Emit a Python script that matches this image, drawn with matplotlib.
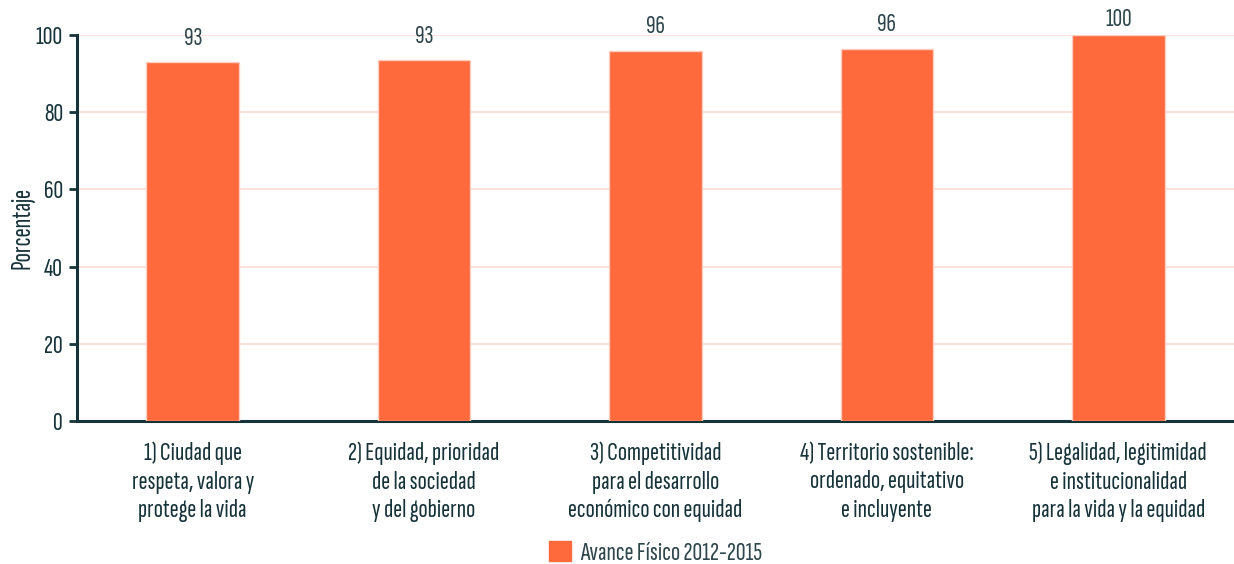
import matplotlib
matplotlib.use("Agg")
import matplotlib.pyplot as plt
import matplotlib.patches as mpatches

# datos del grafico
categorias = [
    "1) Ciudad que\nrespeta, valora y\nprotege la vida",
    "2) Equidad, prioridad\nde la sociedad\ny del gobierno",
    "3) Competitividad\npara el desarrollo\neconómico con equidad",
    "4) Territorio sostenible:\nordenado, equitativo\ne incluyente",
    "5) Legalidad, legitimidad\ne institucionalidad\npara la vida y la equidad",
]
avance = [93.0, 93.5, 95.9, 96.4, 100.0]
etiquetas = ["93", "93", "96", "96", "100"]
yticks = [0, 20, 40, 60, 80, 100]

naranja = "#FF6A3D"
oscuro = "#17333A"
fuente = "Sofia Sans Extra Condensed"

plt.rcParams['font.family'] = [fuente, 'DejaVu Sans']

fig = plt.figure(figsize=(12.34, 5.64), dpi=100)
ax = fig.add_axes([77 / 1234, 1 - 421 / 564, 1 - 77 / 1234, 386 / 564])

x = list(range(len(categorias)))
ax.bar(x, avance, width=0.4, color=naranja, edgecolor="#FFCDBD", linewidth=1, zorder=3)

# etiquetas de valor, la de 100 queda pegada al borde superior
for xi, v, t in zip(x, avance, etiquetas):
    ax.text(xi, min(v + 6.2, 104), t, ha="center", va="center", fontsize=19,
            fontweight=200, color="#2E464C", clip_on=False)

ax.set_xlim(-0.5, 4.5)
ax.set_ylim(0, 100)
ax.set_yticks(yticks)
ax.set_xticks(x)
ax.set_xticklabels(categorias, fontsize=19.5, color=oscuro, linespacing=1.3)
ax.tick_params(axis='x', length=0, pad=15)
ax.tick_params(axis='y', length=6, width=2, color=oscuro, labelsize=19.5, labelcolor=oscuro, pad=4)
ax.yaxis.grid(True, color="#FFE1DB", linewidth=1.5, zorder=0)
ax.set_axisbelow(True)

for s in ['top', 'right']:
    ax.spines[s].set_visible(False)
for s in ['left', 'bottom']:
    ax.spines[s].set_color(oscuro)
    ax.spines[s].set_linewidth(2.2)

ax.set_ylabel("Porcentaje", fontsize=20, color=oscuro, labelpad=1)

handle = mpatches.Patch(color=naranja, label="Avance Físico 2012-2015")
leg = ax.legend(handles=[handle], loc="center", bbox_to_anchor=(0.5, -0.342),
                frameon=False, handlelength=0.8, handleheight=0.8, handletextpad=0.35,
                prop={'family': fuente, 'weight': 200, 'size': 19.5})
for t in leg.get_texts():
    t.set_color("#2E464C")

fig.savefig("out.png")
